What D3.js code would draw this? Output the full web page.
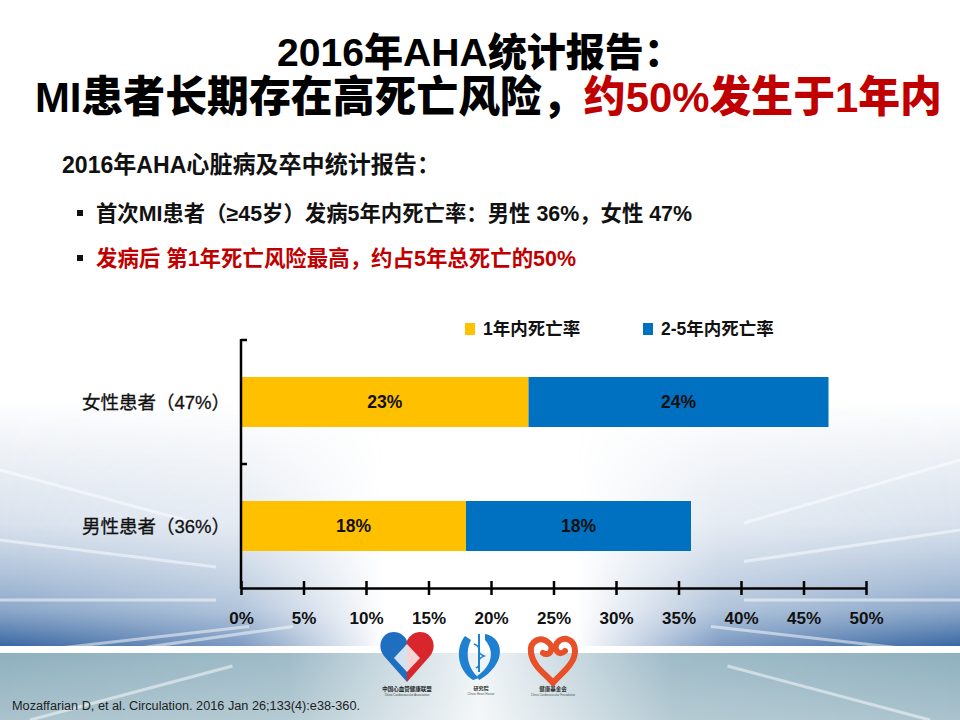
<!DOCTYPE html>
<html>
<head>
<meta charset="utf-8">
<script src="https://cdnjs.cloudflare.com/ajax/libs/d3/7.8.5/d3.min.js"></script>
<style type='text/css'>
  body { margin: 0; background: #fff; }
  svg text { font-family: "Liberation Sans", Arial, "Noto Sans CJK SC", sans-serif; }
  .title text { font-family: "Liberation Sans Narrow", "Liberation Sans", "Noto Sans CJK SC", sans-serif; font-weight: 900; }
  .axis path, .axis line { stroke: #000; stroke-width: 2.5; }
</style>
</head>
<body>
<div id='chart'></div>
<script type='text/javascript'>
  // chart data
  var categories = ["女性患者（47%）", "男性患者（36%）"];
  var seriesNames = ["1年内死亡率", "2-5年内死亡率"];
  var seriesColors = ["#FFC000", "#0070C0"];
  var firstYear = [23, 18];
  var laterYears = [24, 18];
  var xTicks = [0, 5, 10, 15, 20, 25, 30, 35, 40, 45, 50];

  var W = 960, H = 720;
  var svg = d3.select("#chart").append("svg")
    .attr("width", W)
    .attr("height", H);

  // background: pale tunnel at the bottom
  var defs = svg.append("defs");
  var sideGrad = defs.append("linearGradient").attr("id", "sideGrad")
    .attr("x1", 0).attr("y1", 0).attr("x2", 0).attr("y2", 1);
  sideGrad.append("stop").attr("offset", 0).attr("stop-color", "#6d8fb8").attr("stop-opacity", 0);
  sideGrad.append("stop").attr("offset", 0.5).attr("stop-color", "#7d9cc2").attr("stop-opacity", 0.3);
  sideGrad.append("stop").attr("offset", 0.85).attr("stop-color", "#5a82b2").attr("stop-opacity", 0.7);
  sideGrad.append("stop").attr("offset", 1).attr("stop-color", "#2f5f9e").attr("stop-opacity", 0.95);

  var hMask = defs.append("linearGradient").attr("id", "hMaskGrad");
  hMask.append("stop").attr("offset", 0).attr("stop-color", "#fff");
  hMask.append("stop").attr("offset", 0.25).attr("stop-color", "#aaa");
  hMask.append("stop").attr("offset", 0.4).attr("stop-color", "#000");
  hMask.append("stop").attr("offset", 0.6).attr("stop-color", "#000");
  hMask.append("stop").attr("offset", 0.75).attr("stop-color", "#aaa");
  hMask.append("stop").attr("offset", 1).attr("stop-color", "#fff");
  defs.append("mask").attr("id", "sideMask")
    .append("rect").attr("x", 0).attr("y", 0).attr("width", W).attr("height", H)
    .attr("fill", "url(#hMaskGrad)");

  var floorGrad = defs.append("linearGradient").attr("id", "floorGrad")
    .attr("x1", 0).attr("y1", 0).attr("x2", 0).attr("y2", 1);
  floorGrad.append("stop").attr("offset", 0).attr("stop-color", "#8fb0bf");
  floorGrad.append("stop").attr("offset", 1).attr("stop-color", "#aac3cd");

  var floorMask = defs.append("linearGradient").attr("id", "floorMaskGrad");
  floorMask.append("stop").attr("offset", 0).attr("stop-color", "#fff");
  floorMask.append("stop").attr("offset", 0.3).attr("stop-color", "#ddd");
  floorMask.append("stop").attr("offset", 0.5).attr("stop-color", "#222");
  floorMask.append("stop").attr("offset", 0.7).attr("stop-color", "#ddd");
  floorMask.append("stop").attr("offset", 1).attr("stop-color", "#fff");
  defs.append("mask").attr("id", "floorMask")
    .append("rect").attr("x", 0).attr("y", 0).attr("width", W).attr("height", H)
    .attr("fill", "url(#floorMaskGrad)");

  var bg = svg.append("g").attr("class", "bg");
  bg.append("rect").attr("width", W).attr("height", H).attr("fill", "#fff");
  bg.append("rect").attr("x", 0).attr("y", 400).attr("width", W).attr("height", 246)
    .attr("fill", "url(#sideGrad)").attr("mask", "url(#sideMask)");
  bg.append("rect").attr("x", 0).attr("y", 653).attr("width", W).attr("height", 67)
    .attr("fill", "url(#floorGrad)").attr("mask", "url(#floorMask)");

  // perspective streaks
  var vp = [480, 600];
  var streakEnds = [[0, 470], [0, 540], [0, 600], [60, 648], [140, 648], [900, 648], [960, 600], [960, 530], [960, 460], [30, 720], [930, 720]];
  bg.selectAll("line.streak").data(streakEnds).enter().append("line")
    .attr("class", "streak")
    .attr("x1", function(d) { return d[0]; })
    .attr("y1", function(d) { return d[1]; })
    .attr("x2", function(d) { return d[0] + (vp[0] - d[0]) * 0.45; })
    .attr("y2", function(d) { return d[1] + (vp[1] - d[1]) * 0.45; })
    .attr("stroke", "#fff").attr("stroke-width", 3).attr("opacity", 0.5);

  // title
  var title = svg.append("g").attr("class", "title");
  title.append("text")
    .attr("x", 480).attr("y", 66)
    .attr("text-anchor", "middle")
    .attr("font-size", 39)
    .attr("textLength", 406).attr("lengthAdjust", "spacingAndGlyphs")
    .attr("fill", "#000")
    .text("2016年AHA统计报告：");
  var t2 = title.append("text")
    .attr("x", 35).attr("y", 112)
    .attr("font-size", 43)
    .attr("textLength", 907).attr("lengthAdjust", "spacingAndGlyphs");
  t2.append("tspan").attr("fill", "#000").text("MI患者长期存在高死亡风险，");
  t2.append("tspan").attr("fill", "#C00000").text("约50%发生于1年内");

  // subtitle and bullets
  svg.append("text")
    .attr("x", 62).attr("y", 173)
    .attr("font-size", 23.5).attr("font-weight", "bold").attr("fill", "#111")
    .attr("textLength", 378).attr("lengthAdjust", "spacingAndGlyphs")
    .text("2016年AHA心脏病及卒中统计报告：");

  var bullets = [
    { text: "首次MI患者（≥45岁）发病5年内死亡率：男性 36%，女性 47%", color: "#111", y: 221, len: 596 },
    { text: "发病后 第1年死亡风险最高，约占5年总死亡的50%", color: "#C00000", y: 266, len: 480 }
  ];
  var bl = svg.selectAll("g.bullet").data(bullets).enter().append("g").attr("class", "bullet");
  bl.append("rect")
    .attr("x", 77).attr("y", function(d) { return d.y - 11; })
    .attr("width", 6).attr("height", 6).attr("fill", "#111");
  bl.append("text")
    .attr("x", 96).attr("y", function(d) { return d.y; })
    .attr("font-size", 21.4).attr("font-weight", "bold")
    .attr("textLength", function(d) { return d.len; }).attr("lengthAdjust", "spacingAndGlyphs")
    .attr("fill", function(d) { return d.color; })
    .text(function(d) { return d.text; });

  // chart
  var x = d3.scaleLinear().domain([0, 50]).range([241, 866]);
  var y = d3.scaleBand().domain(categories).range([340, 588]).padding(0);
  var barH = 50;

  var rows = categories.map(function(c, i) {
    return { cat: c, s0: firstYear[i], s1: laterYears[i] };
  });
  var stack = d3.stack().keys(["s0", "s1"]);
  var layers = stack(rows);

  var chart = svg.append("g").attr("class", "chart");
  var layer = chart.selectAll("g.layer").data(layers).enter().append("g")
    .attr("class", "layer")
    .attr("fill", function(d, i) { return seriesColors[i]; });
  layer.selectAll("rect").data(function(d) { return d; }).enter().append("rect")
    .attr("x", function(d) { return x(d[0]); })
    .attr("y", function(d) { return y(d.data.cat) + (y.bandwidth() - barH) / 2; })
    .attr("width", function(d) { return x(d[1]) - x(d[0]); })
    .attr("height", barH);
  layer.selectAll("text").data(function(d) { return d; }).enter().append("text")
    .attr("x", function(d) { return (x(d[0]) + x(d[1])) / 2; })
    .attr("y", function(d) { return y(d.data.cat) + y.bandwidth() / 2 + 6; })
    .attr("text-anchor", "middle")
    .attr("font-size", 17.5).attr("font-weight", "bold").attr("fill", "#111")
    .text(function(d) { return (d[1] - d[0]) + "%"; });

  // x axis, ticks cross the line
  var xAxis = chart.append("g").attr("class", "axis")
    .attr("transform", "translate(0,588)")
    .call(d3.axisBottom(x).tickValues(xTicks).tickSizeInner(7).tickSizeOuter(0)
      .tickFormat(function(d) { return d + "%"; }));
  xAxis.selectAll(".tick line").attr("y1", -7);
  xAxis.selectAll(".tick text")
    .attr("y", 24)
    .attr("font-size", 17).attr("font-weight", "bold").attr("fill", "#111")
    .attr("font-family", "Liberation Sans, Arial, sans-serif");

  // y axis with ticks at band edges
  var yAxis = chart.append("g").attr("class", "axis");
  yAxis.append("line")
    .attr("x1", 241).attr("x2", 241).attr("y1", 339).attr("y2", 589);
  yAxis.selectAll("line.ytick").data(categories).enter().append("line")
    .attr("class", "ytick")
    .attr("x1", 241).attr("x2", 247)
    .attr("y1", function(d) { return y(d); })
    .attr("y2", function(d) { return y(d); });
  yAxis.selectAll("text").data(categories).enter().append("text")
    .attr("x", 230)
    .attr("y", function(d) { return y(d) + y.bandwidth() / 2 + 7; })
    .attr("text-anchor", "end")
    .attr("font-size", 18.5).attr("fill", "#111")
    .attr("stroke", "#111").attr("stroke-width", 0.3)
    .text(function(d) { return d; });

  // legend
  var legendX = [465, 643];
  var lg = chart.selectAll("g.legend").data(seriesNames).enter().append("g")
    .attr("class", "legend")
    .attr("transform", function(d, i) { return "translate(" + legendX[i] + ",323)"; });
  lg.append("rect").attr("width", 10).attr("height", 12)
    .attr("fill", function(d, i) { return seriesColors[i]; });
  lg.append("text").attr("x", 18).attr("y", 12)
    .attr("font-size", 17.5).attr("font-weight", "bold").attr("fill", "#111")
    .text(function(d) { return d; });

  // logos (rough)
  var logos = svg.append("g").attr("class", "logos");
  var l1 = logos.append("g").attr("transform", "translate(380,630)");
  l1.append("path").attr("d", "M27,52 L4,26 C-4,16 2,2 14,2 C20,2 25,6 27,11 Z").attr("fill", "#1f6fc0");
  l1.append("path").attr("d", "M27,52 L50,26 C58,16 52,2 40,2 C34,2 29,6 27,11 Z").attr("fill", "#d9262c");
  l1.append("path").attr("d", "M14,28 L27,14 L40,28 L27,42 Z").attr("fill", "#fff").attr("opacity", 0.8);
  l1.append("text").attr("x", 27).attr("y", 61).attr("text-anchor", "middle")
    .attr("font-size", 5.5).attr("font-weight", "bold").attr("fill", "#222").text("中国心血管健康联盟");
  l1.append("text").attr("x", 27).attr("y", 66).attr("text-anchor", "middle")
    .attr("font-size", 3).attr("fill", "#444").text("China Cardiovascular Association");

  var l2 = logos.append("g").attr("transform", "translate(455,628)");
  l2.append("path").attr("d", "M10,8 C0,20 2,42 18,52 L24,50 C12,40 10,24 16,12 Z").attr("fill", "#1f7fd0");
  l2.append("path").attr("d", "M30,6 C44,8 50,24 40,38 C34,46 28,50 24,52 L22,48 C34,40 42,26 30,12 Z").attr("fill", "#1f7fd0");
  l2.append("line").attr("x1", 24).attr("y1", 6).attr("x2", 24).attr("y2", 44).attr("stroke", "#1f7fd0").attr("stroke-width", 2);
  l2.append("path").attr("d", "M19,16 C29,20 19,24 29,28 C19,32 29,36 21,40").attr("fill", "none").attr("stroke", "#1f7fd0").attr("stroke-width", 1.5);
  l2.append("text").attr("x", 26).attr("y", 62).attr("text-anchor", "middle")
    .attr("font-size", 5).attr("font-weight", "bold").attr("fill", "#333").text("研究院");
  l2.append("text").attr("x", 26).attr("y", 67).attr("text-anchor", "middle")
    .attr("font-size", 3.2).attr("fill", "#555").text("China Heart House");

  var l3 = logos.append("g").attr("transform", "translate(527,633)");
  l3.append("path")
    .attr("d", "M26,50 C20,42 6,34 4,20 C2,8 14,2 22,10 C28,16 22,24 16,20 M26,50 C32,42 48,32 48,18 C48,6 36,2 30,10 C26,16 32,24 38,18")
    .attr("fill", "none").attr("stroke", "#e8502a").attr("stroke-width", 6).attr("stroke-linecap", "round");
  l3.append("text").attr("x", 26).attr("y", 58).attr("text-anchor", "middle")
    .attr("font-size", 5.5).attr("font-weight", "bold").attr("fill", "#333").text("健康基金会");
  l3.append("text").attr("x", 26).attr("y", 63).attr("text-anchor", "middle")
    .attr("font-size", 3).attr("fill", "#555").text("China Cardiovascular Foundation");

  // citation
  svg.append("text")
    .attr("x", 12).attr("y", 710)
    .attr("font-size", 12.5).attr("fill", "#222")
    .attr("font-family", "Liberation Sans Narrow, Liberation Sans, sans-serif")
    .attr("textLength", 348).attr("lengthAdjust", "spacingAndGlyphs")
    .text("Mozaffarian D, et al. Circulation. 2016 Jan 26;133(4):e38-360.");
</script>
</body>
</html>
